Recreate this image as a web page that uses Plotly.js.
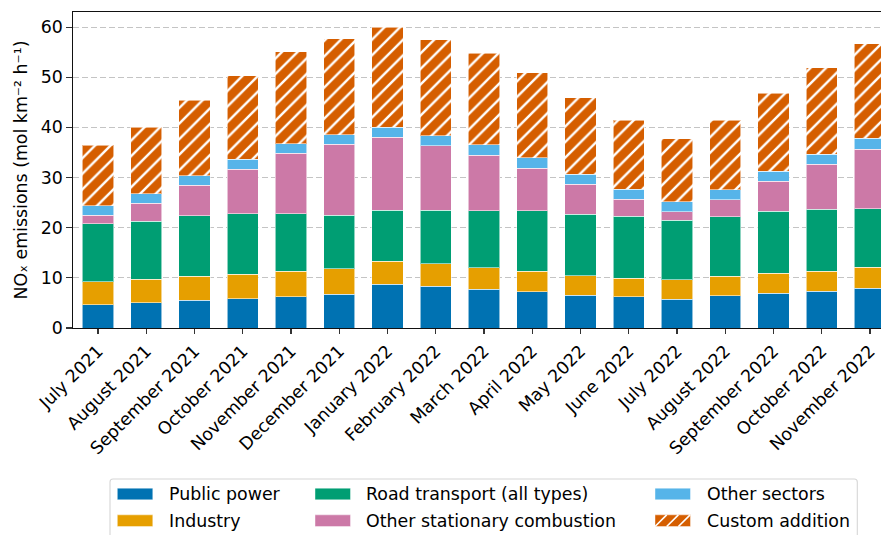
<!DOCTYPE html>
<html>
<head>
<meta charset="utf-8">
<script src="https://cdn.plot.ly/plotly-3.0.1.min.js"></script>
<style>
html, body { margin: 0; padding: 0; overflow: hidden; background: #fff; }
#chart { width: 915px; height: 535px; }
</style>
</head>
<body>
<div id="chart"></div>
<script>
// ---- data (mol km^-2 h^-1) ----
var months = ['July 2021', 'August 2021', 'September 2021', 'October 2021', 'November 2021',
  'December 2021', 'January 2022', 'February 2022', 'March 2022', 'April 2022', 'May 2022',
  'June 2022', 'July 2022', 'August 2022', 'September 2022', 'October 2022', 'November 2022'];
var publicPower     = [4.64, 5.04, 5.57, 5.84, 6.23, 6.70, 8.75, 8.36, 7.69, 7.23, 6.56, 6.23, 5.77, 6.43, 6.96, 7.29, 7.89];
var industry        = [4.58, 4.71, 4.77, 4.84, 5.11, 5.10, 4.51, 4.44, 4.31, 4.11, 3.85, 3.72, 3.85, 3.85, 3.92, 4.05, 4.18];
var roadTransport   = [11.54, 11.54, 12.01, 12.07, 11.47, 10.68, 10.21, 10.67, 11.41, 12.07, 12.27, 12.33, 11.87, 11.93, 12.40, 12.33, 11.74];
var otherStationary = [1.72, 3.58, 6.10, 8.88, 12.00, 14.12, 14.59, 12.87, 11.07, 8.42, 5.97, 3.38, 1.65, 3.39, 5.96, 8.96, 11.87];
var otherSectors    = [1.86, 1.85, 1.86, 1.99, 1.93, 1.93, 1.93, 1.99, 2.06, 2.12, 2.05, 1.99, 1.99, 1.99, 1.99, 1.99, 2.12];
var customAddition  = [12.13, 13.27, 15.11, 16.71, 18.30, 19.10, 20.02, 19.10, 18.23, 16.91, 15.25, 13.80, 12.60, 13.79, 15.59, 17.24, 18.83];
var seriesNames = ['Public power', 'Industry', 'Road transport (all types)', 'Other stationary combustion', 'Other sectors', 'Custom addition'];
var yTitle = 'NO\u2093 emissions (mol km\u207B\u00B2 h\u207B\u00B9)';

// ---- styling ----
var FONT = 'DejaVu Sans, Liberation Sans, sans-serif';
var FS = 17.4;
var colors = ['#0072B2', '#E69F00', '#009E73', '#CC79A7', '#56B4E9', '#D55E00'];
var seriesValues = [publicPower, industry, roadTransport, otherStationary, otherSectors, customAddition];

// pixel geometry of plot area inside a 915 x 535 figure
var W = 915, H = 535, L = 73, R = 895, T = 12, B = 328;
var PW = R - L, PH = B - T;
function px2x(px) { return (px - L) / PW; }
function py2y(py) { return (B - py) / PH; }

var traces = seriesValues.map(function (vals, i) {
  var tr = {
    type: 'bar',
    name: seriesNames[i],
    x: months,
    y: vals,
    showlegend: false,
    marker: {
      color: colors[i],
      line: { color: 'rgba(255,255,255,0.55)', width: 1 }
    },
    hoverinfo: 'skip'
  };
  if (i === 5) {
    tr.marker.pattern = { shape: '/', fgcolor: '#ffffff', fgopacity: 1, bgcolor: colors[i], size: 11, solidity: 0.22, fillmode: 'overlay' };
  }
  return tr;
});

// ---- legend (3 columns x 2 rows, column-major like the reference) ----
var colPatch = [117.3, 315, 655];
var colText = [167.7, 365.4, 706];
var rowMid = [494, 520.7];
var PATCH_W = 35.5, PATCH_H = 11.7;
var shapes = [];
var annotations = [];

// frame (rounded rectangle)
var bx0 = 110, bx1 = 857.3, by0 = 479, by1 = 540, rr = 3;
function P(px, py) { return px2x(px) + ',' + py2y(py); }
shapes.push({
  type: 'path', xref: 'paper', yref: 'paper',
  path: 'M' + P(bx0 + rr, by0) + ' L' + P(bx1 - rr, by0) + ' Q' + P(bx1, by0) + ' ' + P(bx1, by0 + rr) +
    ' L' + P(bx1, by1 - rr) + ' Q' + P(bx1, by1) + ' ' + P(bx1 - rr, by1) +
    ' L' + P(bx0 + rr, by1) + ' Q' + P(bx0, by1) + ' ' + P(bx0, by1 - rr) +
    ' L' + P(bx0, by0 + rr) + ' Q' + P(bx0, by0) + ' ' + P(bx0 + rr, by0) + ' Z',
  fillcolor: '#ffffff', line: { color: '#d6d6d6', width: 1.1 }, layer: 'above'
});

seriesNames.forEach(function (name, i) {
  var col = Math.floor(i / 2), row = i % 2;
  var px0 = colPatch[col], px1 = px0 + PATCH_W;
  var py0 = rowMid[row] - PATCH_H / 2, py1 = rowMid[row] + PATCH_H / 2;
  shapes.push({
    type: 'rect', xref: 'paper', yref: 'paper',
    x0: px2x(px0), x1: px2x(px1), y0: py2y(py1), y1: py2y(py0),
    fillcolor: colors[i], line: { color: 'rgba(255,255,255,0.55)', width: 0.8 }, layer: 'above'
  });
  if (i === 5) {
    // hatch '/' inside the patch, clipped to its rectangle
    var step = 11.7, h = py1 - py0;
    for (var c = px0 - h; c < px1; c += step) {
      var xa = c, ya = py1, xb = c + h, yb = py0;
      if (xa < px0) { ya = py1 - (px0 - c); xa = px0; }
      if (xb > px1) { yb = py1 - (px1 - c); xb = px1; }
      if (xb - xa < 1) continue;
      shapes.push({
        type: 'line', xref: 'paper', yref: 'paper',
        x0: px2x(xa), y0: py2y(ya), x1: px2x(xb), y1: py2y(yb),
        line: { color: '#ffffff', width: 1.6 }, layer: 'above'
      });
    }
  }
  annotations.push({
    xref: 'paper', yref: 'paper',
    x: px2x(colText[col] - 1), y: py2y(rowMid[row]),
    xanchor: 'left', yanchor: 'middle',
    text: name, showarrow: false,
    font: { family: FONT, size: FS, color: '#000' }
  });
});

var layout = {
  width: W,
  height: H,
  margin: { l: L, r: W - R, t: T, b: H - B, pad: 0, autoexpand: false },
  paper_bgcolor: '#ffffff',
  plot_bgcolor: '#ffffff',
  font: { family: FONT, size: FS, color: '#000' },
  barmode: 'stack',
  bargap: 0.35,
  hovermode: false,
  showlegend: false,
  xaxis: {
    type: 'category',
    range: [-0.518, 16.518],
    tickangle: -45,
    ticks: 'outside',
    ticklen: 5,
    tickwidth: 1.1,
    tickcolor: '#333',
    tickfont: { family: FONT, size: FS, color: '#000' },
    showgrid: false,
    showline: true,
    mirror: true,
    linecolor: '#111',
    linewidth: 1.1,
    zeroline: false,
    automargin: false,
    fixedrange: true
  },
  yaxis: {
    range: [0, 63],
    tickvals: [0, 10, 20, 30, 40, 50, 60],
    ticktext: ['0', '10', '20', '30', '40', '50', '60'],
    ticks: 'outside',
    ticklen: 5.5,
    tickwidth: 1.1,
    tickcolor: '#333',
    tickfont: { family: FONT, size: FS, color: '#000' },
    showgrid: true,
    gridcolor: '#c4c4c4',
    gridwidth: 1.1,
    griddash: '6px,3px',
    showline: true,
    mirror: true,
    linecolor: '#111',
    linewidth: 1.1,
    zeroline: false,
    automargin: false,
    fixedrange: true,
    title: {
      text: yTitle,
      font: { family: FONT, size: FS, color: '#000' },
      standoff: 8
    }
  },
  shapes: shapes,
  annotations: annotations
};

Plotly.newPlot('chart', traces, layout, { displayModeBar: false, staticPlot: true });
</script>
</body>
</html>
